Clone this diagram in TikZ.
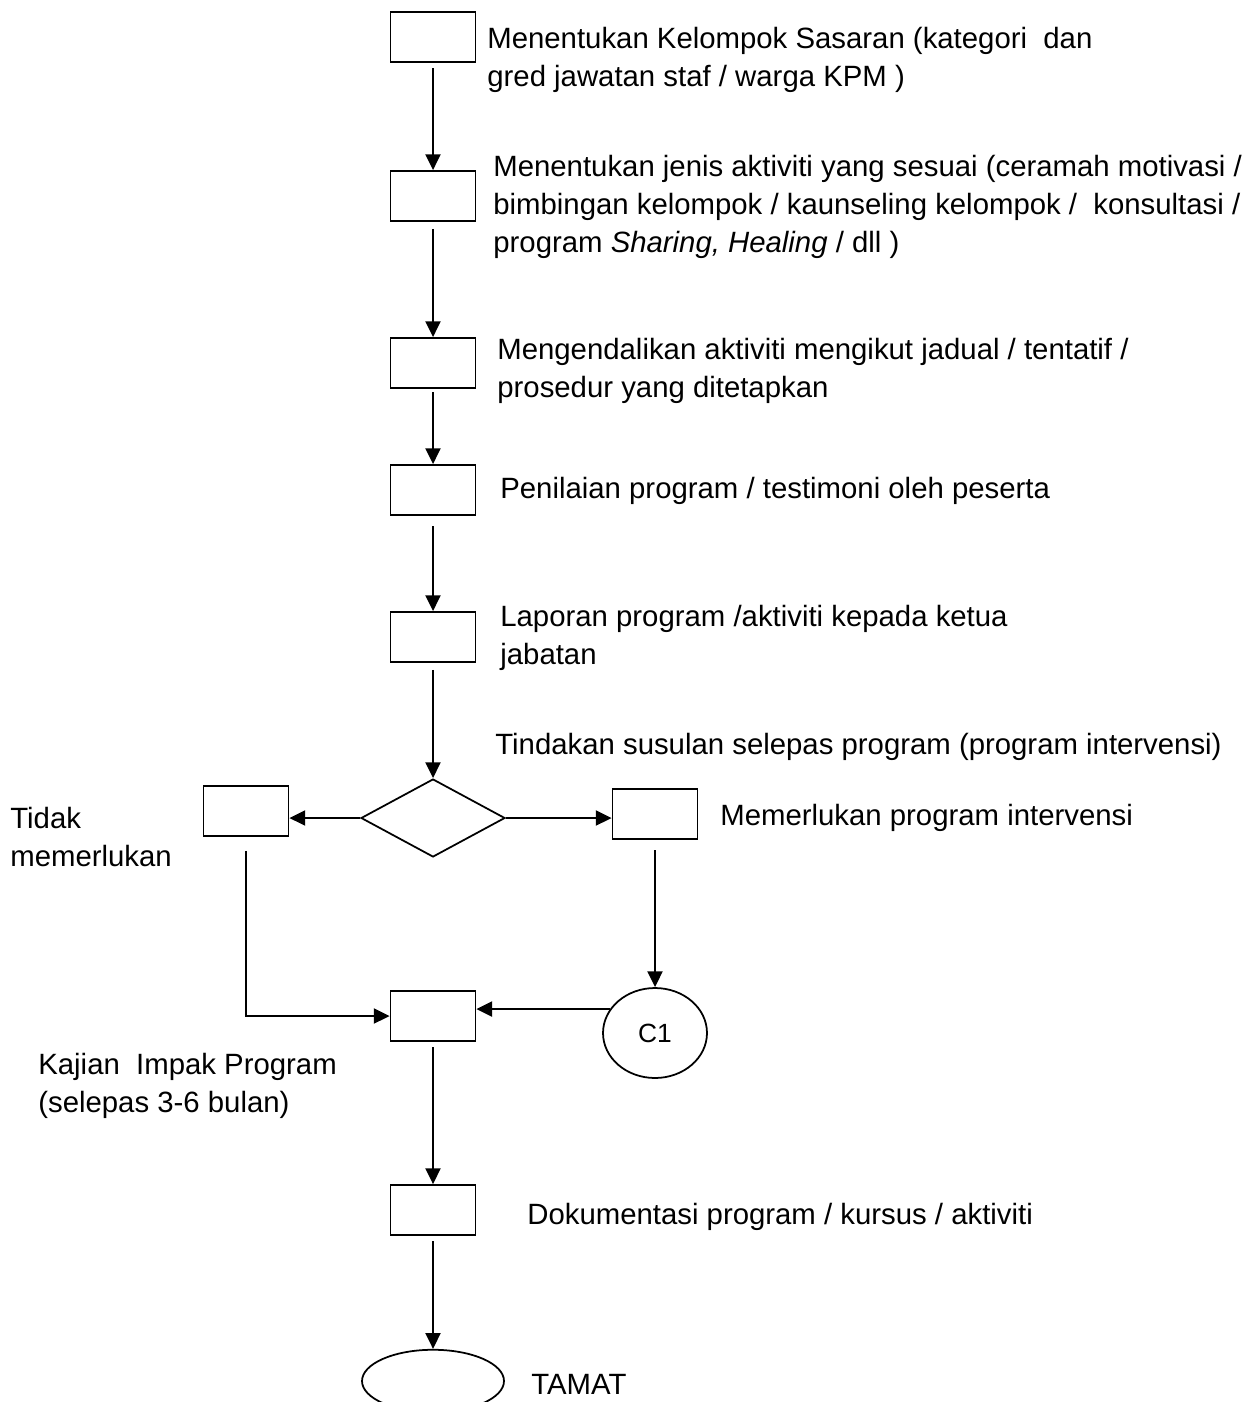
\documentclass[tikz,border=0pt]{standalone}
\usepackage{fontspec}
\setmainfont{Liberation Sans}
\usetikzlibrary{positioning,arrows.meta,shapes.geometric}

\begin{document}
\begin{tikzpicture}[
    x=0.02cm, y=-0.02cm,
    >={Triangle[length=9pt,width=8.5pt]},
    box/.style={draw,line width=1pt,minimum width=1.7cm,minimum height=1cm,inner sep=0pt},
    choice/.style={draw,diamond,line width=1pt,minimum width=2.88cm,minimum height=1.56cm,aspect=1.85,inner sep=0pt},
    term/.style={draw,ellipse,line width=1pt,inner sep=0pt},
    txt/.style={anchor=west,align=left,inner sep=0pt,font=\fontsize{16.7}{21.6}\selectfont},
    flow/.style={->,line width=1.4pt}
  ]
  \useasboundingbox (0,0) rectangle (1252,1402);

  % main column
  \node[box] (target) at (433,37) {};
  \node[box] (kind) at (433,196) {};
  \node[box] (run) at (433,363) {};
  \node[box] (assess) at (433,490) {};
  \node[box] (report) at (433,637) {};
  \node[choice] (follow) at (433,818) {};
  \node[box] (nope) at (246,811) {};
  \node[box] (need) at (655,814) {};
  \node[term,minimum width=2.08cm,minimum height=1.8cm] (c1) at (655,1033)
    {\fontsize{15}{17}\selectfont C1};
  \node[box] (impact) at (433,1016) {};
  \node[box] (docs) at (433,1210) {};
  \node[term,minimum width=2.84cm,minimum height=1.25cm] (tamat) at (433,1381) {};

  % labels
  \node[txt] (ltarget) at (487,60) {Menentukan Kelompok Sasaran (kategori \ dan\\gred jawatan staf / warga KPM )};
  \node[txt] (lkind) at (493,207) {Menentukan jenis aktiviti yang sesuai (ceramah motivasi /\\bimbingan kelompok / kaunseling kelompok / \ konsultasi /\\program \textit{Sharing, Healing} / dll )};
  \node[txt] (lrun) at (497,371) {Mengendalikan aktiviti mengikut jadual / tentatif /\\prosedur yang ditetapkan};
  \node[txt] (lassess) at (500,491) {Penilaian program / testimoni oleh peserta};
  \node[txt] (lreport) at (500,638) {Laporan program /aktiviti kepada ketua\\jabatan};
  \node[txt] (lfollow) at (495,747) {Tindakan susulan selepas program (program intervensi)};
  \node[txt] (lnope) at (10,837) {Tidak\\memerlukan};
  \node[txt] (lneed) at (720,818) {Memerlukan program intervensi};
  \node[txt] (limpact) at (38,1086) {Kajian \ Impak Program\\(selepas 3-6 bulan)};
  \node[txt] (ldocs) at (527,1217) {Dokumentasi program / kursus / aktiviti};
  \node[txt] (ltamat) at (531,1384) {TAMAT};

  % connectors
  \draw[flow,shorten <=3pt] (target) -- (kind);
  \draw[flow,shorten <=4pt] (kind) -- (run);
  \draw[flow,shorten <=2pt] (run) -- (assess);
  \draw[flow,shorten <=6pt] (assess) -- (report);
  \draw[flow,shorten <=4pt] (report) -- (follow);
  \draw[flow] (follow.west) -- (nope.east |- follow.west);
  \draw[flow] (follow.east) -- (need.west |- follow.east);
  \draw[flow,shorten <=8pt] (nope) |- (impact);
  \draw[flow,shorten <=6pt] (need) -- (c1);
  \draw[flow] (c1.152) -- (impact.east |- c1.152);
  \draw[flow,shorten <=3pt] (impact) -- (docs);
  \draw[flow,shorten <=3pt] (docs) -- (tamat);
\end{tikzpicture}
\end{document}
